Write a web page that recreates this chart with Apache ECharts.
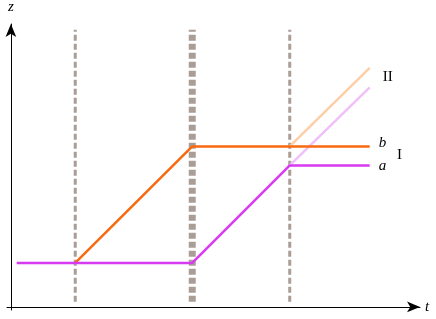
<!DOCTYPE html>
<html><head><meta charset="utf-8">
<script src="https://cdn.jsdelivr.net/npm/echarts@6/dist/echarts.min.js"></script>
<style>html,body{margin:0;padding:0;background:#fff}#c{width:436px;height:319px}</style>
</head><body><div id="c"></div>
<script>
// key times (t) and levels (z)
var times = [0.15, 1.65, 4.65, 7.15, 9.2];
var orangeB = [[1.65, 1.13], [4.65, 4.13], [9.2, 4.13]];
var magentaA = [[0.15, 1.13], [4.65, 1.13], [7.15, 3.64], [9.2, 3.64]];
var lightOrangeII = [[7.15, 4.13], [9.2, 6.15]];
var lightMagentaII = [[7.15, 3.64], [9.2, 5.65]];
var dashedTimes = [1.65, 4.65, 7.15];
var dashedRange = [0.13, 7.13];

var serif = 'Liberation Serif';
function vline(t, w, pat) {
  return {type: 'line', data: [[t, dashedRange[0]], [t, dashedRange[1]]], symbol: 'none', silent: true, z: 1,
    lineStyle: {color: '#aa9d96', width: w, type: pat, cap: 'butt'}};
}
var chart = echarts.init(document.getElementById('c'));
chart.setOption({
  animation: false,
  grid: {left: 7, right: 16, top: 23, bottom: 9},
  xAxis: {type: 'value', min: -0.1, max: 10.49, splitLine: {show: false}, axisTick: {show: false}, axisLabel: {show: false},
    axisLine: {lineStyle: {color: '#000', width: 1}, symbol: ['none', 'arrow'], symbolSize: [8, 13]},
    name: 't', nameLocation: 'end', nameGap: 5, nameTextStyle: {fontFamily: serif, fontStyle: 'italic', fontSize: 15, color: '#000'}},
  yAxis: {type: 'value', min: -0.08, max: 7.28, splitLine: {show: false}, axisTick: {show: false}, axisLabel: {show: false},
    axisLine: {lineStyle: {color: '#000', width: 1}, symbol: ['none', 'arrow'], symbolSize: [8, 13]},
    name: 'z', nameLocation: 'end', nameGap: 9, nameTextStyle: {fontFamily: serif, fontStyle: 'italic', fontSize: 15, color: '#000', align: 'center'}},
  series: [
    vline(dashedTimes[0], 3, [6, 3]),
    vline(dashedTimes[1], 7, [6, 3]),
    vline(dashedTimes[2], 3, [6, 3]),
    {type: 'line', data: lightOrangeII, symbol: 'none', z: 2, lineStyle: {color: '#fccfa6', width: 2.5},
      endLabel: {show: true, formatter: 'II', fontFamily: serif, fontSize: 15, color: '#000', offset: [5, 9]}},
    {type: 'line', data: lightMagentaII, symbol: 'none', z: 2, lineStyle: {color: '#f0c0f8', width: 2.5}},
    {type: 'line', data: orangeB, symbol: 'none', z: 3, lineStyle: {color: '#f86a10', width: 2.5},
      endLabel: {show: true, formatter: 'b', fontFamily: serif, fontStyle: 'italic', fontSize: 15, color: '#000', offset: [1, -3]}},
    {type: 'line', data: magentaA, symbol: 'none', z: 3, lineStyle: {color: '#d83af2', width: 2.5},
      endLabel: {show: true, formatter: 'a', fontFamily: serif, fontStyle: 'italic', fontSize: 15, color: '#000', offset: [1, 1]}}
  ],
  graphic: [{type: 'text', left: 397, top: 148, style: {text: 'I', font: '15px "Liberation Serif"', fill: '#000'}}]
});
</script></body></html>
